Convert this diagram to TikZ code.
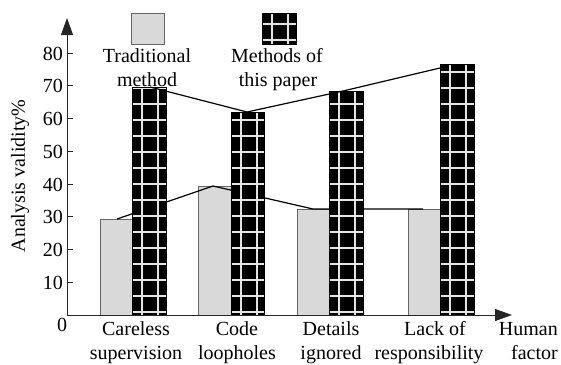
\documentclass[tikz,border=0pt]{standalone}
\usepackage{fontspec}
\setmainfont{Liberation Serif}
\usetikzlibrary{arrows.meta,calc}
\begin{document}
\begin{tikzpicture}[x=1pt,y=-1pt,
  lbl/.style={font=\fontsize{20}{25}\selectfont, inner sep=0pt, anchor=base},
  tlbl/.style={font=\fontsize{20}{25}\selectfont, inner sep=0pt, anchor=base east},
  gbar/.style={draw=black!60, line width=0.8pt, fill=black!15, inner sep=0pt, outer sep=0pt, anchor=south west, minimum width=#1},
  bbar/.style={draw=black, line width=0.6pt, fill=black, inner sep=0pt, outer sep=0pt, anchor=south west, minimum width=#1,
    path picture={
      \foreach \k in {0,...,20} {\pgfmathsetmacro\yy{312-16*\k}
        \draw[white!90!black, line width=1.5pt] ($(origin)+(0,\yy)$) -- ($(origin)+(600,\yy)$);}
      \draw[white!90!black, line width=1.5pt] ($(path picture bounding box.south west)+(10,0)$) -- ($(path picture bounding box.north west)+(10,0)$);
      \draw[white!90!black, line width=1.5pt] ($(path picture bounding box.south west)+(26,0)$) -- ($(path picture bounding box.north west)+(26,0)$);
    }},
  conn/.style={draw=black, line width=1.2pt},
  axis/.style={draw=black!85, line width=0.9pt},
  tip/.style={-{Triangle[length=17pt,width=12pt]}}
]
\useasboundingbox (0,0) rectangle (561,364);
\coordinate (origin) at (0,0);

% gray bars
\node[gbar=32, minimum height=96] (g1) at (100,315) {};
\node[gbar=33, minimum height=129] (g2) at (198,315) {};
\node[gbar=32, minimum height=106] (g3) at (297,315) {};
\node[gbar=32, minimum height=106] (g4) at (408,315) {};

% line of traditional method
\coordinate (c1) at (117,219);
\coordinate (c2) at (213,186);
\coordinate (c3) at (313,209);
\coordinate (c4) at (423,209);
\draw[conn] (c1) -- (c2) -- (c3) -- (c4);

% black bars
\node[bbar=34, minimum height=228] (b1) at (132,315) {};
\node[bbar=33, minimum height=203] (b2) at (231,315) {};
\node[bbar=34, minimum height=224] (b3) at (329,315) {};
\node[bbar=34, minimum height=251] (b4) at (440,315) {};

% line of this paper's method
\coordinate (d1) at (150,87);
\coordinate (d2) at (247,112);
\coordinate (d3) at (343,91);
\coordinate (d4) at (440,68);
\draw[conn] (d1) -- (d2) -- (d3) -- (d4);

% axes
\coordinate (o) at (67,315);
\coordinate (ytop) at (67,18);
\coordinate (xend) at (512,315);
\draw[axis, tip] (o) -- (ytop);
\draw[axis, tip] (o) -- (xend);

% ticks
\foreach \v in {1,...,8} {
  \pgfmathsetmacro\yy{315-32.75*\v}
  \draw[axis] (67,\yy) -- (73,\yy);
  \node[tlbl] (t\v) at (63,\yy+7) {\v0};
}
\node[lbl] (zero) at (62,331) {0};

% y label
\node[font=\fontsize{20}{25}\selectfont, inner sep=0pt, rotate=90] (ylab) at (20,176) {Analysis validity\%};

% x labels
\node[lbl] (x1a) at (136,335) {Careless};
\node[lbl] (x1b) at (136,359) {supervision};
\node[lbl] (x2a) at (237,335) {Code};
\node[lbl] (x2b) at (237,359) {loopholes};
\node[lbl] (x3a) at (331,335) {Details};
\node[lbl] (x3b) at (331,359) {ignored};
\node[lbl] (x4a) at (435,335) {Lack of};
\node[lbl] (x4b) at (429,359) {responsibility};
\node[tlbl] (x5a) at (558,335) {Human};
\node[tlbl] (x5b) at (558,359) {factor};

% legend
\node[gbar=33, minimum height=31, anchor=north west] (lg) at (131,13) {};
\node[bbar=34, minimum height=31, anchor=north west] (lb) at (262,13) {};
\node[lbl] (lt1) at (147,62) {Traditional};
\node[lbl] (lt2) at (147,86) {method};
\node[lbl] (lm1) at (277,62) {Methods of};
\node[lbl] (lm2) at (278,86) {this paper};
\end{tikzpicture}
\end{document}
